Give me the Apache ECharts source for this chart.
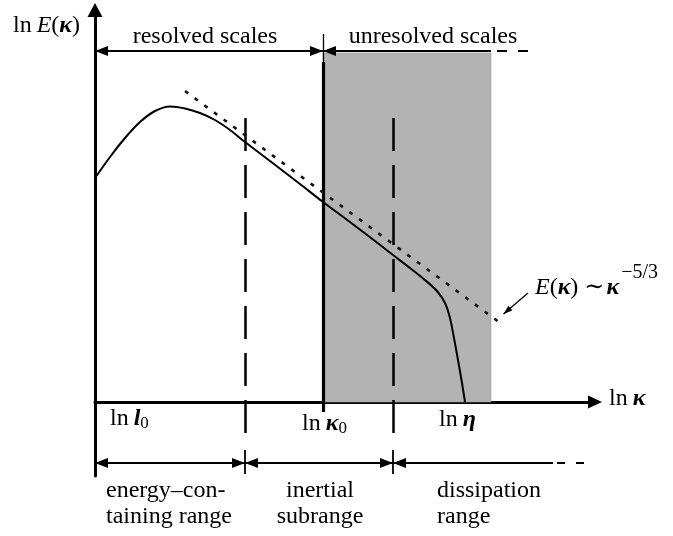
<!DOCTYPE html>
<html><head><meta charset="utf-8">
<script src="https://cdn.jsdelivr.net/npm/echarts@6/dist/echarts.min.js"></script>
<style>html,body{margin:0;padding:0;background:#fff}#c{width:673px;height:536px}</style>
</head><body><div id="c"></div>
<script>
// ---- data (arbitrary log units: x = ln kappa, y = ln E) ----
const lnK = [0, 0.3, 0.6, 0.9, 1.2, 1.5, 1.8, 2.1, 2.4, 2.7, 3.0, 3.5, 4.1, 4.56, 5.1, 5.6, 5.96, 6.3, 6.6, 6.84, 7.0, 7.1, 7.18, 7.26, 7.34, 7.4];
const lnE = [5.6, 6.125, 6.6, 7.0, 7.275, 7.39, 7.34, 7.225, 7.05, 6.8, 6.5, 6.025, 5.45, 5.0, 4.5, 4.025, 3.675, 3.35, 3.05, 2.775, 2.475, 2.1, 1.6, 1.05, 0.475, 0];
const asymK = [1.8, 8.16];
const asymE = [7.775, 1.925];
const kL0 = 3.0, kK0 = 4.56, kEta = 5.96, kShadeEnd = 7.92;
const topLevel = 8.775, shadeTop = 8.725, botLevel = -1.525;

const FF = "'Liberation Serif','DejaVu Serif',serif";
const font = (sz, st, wt) => (st || 'normal') + ' ' + (wt || 'normal') + ' ' + sz + 'px ' + FF;
const chart = echarts.init(document.getElementById('c'), null, {renderer: 'canvas'});

const ARW = {symbol: 'triangle', symbolSize: [10, 13], symbolOffset: [0, 6.5]};
function seg(a, b, from, to, style) {
  const p = Object.assign({coord: a}, from ? ARW : {symbol: 'none'});
  const q = Object.assign({coord: b}, to ? ARW : {symbol: 'none'});
  p.lineStyle = Object.assign({color: '#000', width: 2, type: 'solid'}, style || {});
  return [p, q];
}
const dashV = {width: 2.5, type: [33, 14]};
const marks = [
  seg([0, topLevel], [kK0, topLevel], true, true),
  seg([kK0, topLevel], [kShadeEnd, topLevel], true, false),
  seg([8.04, topLevel], [8.7, topLevel], false, false, {type: [10, 11]}),
  seg([kK0, 9.2], [kK0, 8.5], false, false, {width: 1.3}),
  seg([kK0, 8.5], [kK0, -0.25], false, false, {width: 3.2}),
  seg([kL0, 7.1], [kL0, -0.775], false, false, dashV),
  seg([kEta, 7.1], [kEta, -0.775], false, false, dashV),
  seg([0, botLevel], [kL0, botLevel], true, true),
  seg([kL0, botLevel], [kEta, botLevel], true, true),
  seg([kEta, botLevel], [9.16, botLevel], true, false),
  seg([9.24, botLevel], [9.78, botLevel], false, false, {type: [8, 11]}),
  seg([kL0, -1.2], [kL0, -1.8], false, false, {width: 1.8}),
  seg([kEta, -1.2], [kEta, -1.8], false, false, {width: 1.8}),
  seg([asymK[0], asymE[0]], [asymK[1], asymE[1]], false, false, {width: 2.6, type: [4, 8], color: '#111'}),
  [{coord: [8.66, 2.725], symbol: 'none', lineStyle: {color: '#000', width: 1.3, type: 'solid'}},
   {coord: [8.17, 2.2], symbol: 'triangle', symbolSize: [6, 9], symbolOffset: [0, 4.5]}]
];

const axisCommon = {
  type: 'value', axisTick: {show: false}, axisLabel: {show: false}, splitLine: {show: false},
};
chart.setOption({
  animation: false,
  backgroundColor: '#fff',
  grid: {left: 95, right: 78, top: 10, bottom: 60},
  xAxis: Object.assign({min: 0, max: 10, axisLine: {onZero: true, symbol: ['none', 'triangle'], symbolSize: [13, 14], lineStyle: {color: '#000', width: 3}}}, axisCommon),
  yAxis: Object.assign({min: -1.85, max: 9.8, axisLine: {onZero: true, symbol: ['none', 'triangle'], symbolSize: [15, 14], lineStyle: {color: '#000', width: 3}}}, axisCommon),
  series: [{
    type: 'line',
    data: lnK.map((k, i) => [k, lnE[i]]),
    smooth: 0.25,
    showSymbol: false,
    silent: true,
    lineStyle: {color: '#000', width: 2},
    z: 3,
    markArea: {
      silent: true,
      itemStyle: {color: '#b3b3b3', borderColor: '#9a9a9a', borderWidth: 0.6},
      data: [[{coord: [kK0, 0]}, {coord: [kShadeEnd, shadeTop]}]]
    },
    markLine: {
      silent: true, animation: false,
      label: {show: false},
      emphasis: {disabled: true},
      symbol: ['none', 'none'],
      data: marks
    }
  }]
});

// ---- text annotations anchored in data coordinates ----
const P = (x, y) => chart.convertToPixel({gridIndex: 0}, [x, y]);
const rich = {
  r: {font: font(24), fill: '#000'},
  i: {font: font(24, 'italic'), fill: '#000'},
  iL: {font: font(24, 'italic'), fill: '#000', padding: [0, 0, 0, 5]},
  b: {font: font(24, 'italic', 'bold'), fill: '#000'},
  bL: {font: font(24, 'italic', 'bold'), fill: '#000', padding: [0, 0, 0, 5]},
  sub: {font: font(17), fill: '#000', padding: [10, 0, 0, 0]},
  sim: {font: font(24), fill: '#000', padding: [0, 2, 0, 6]},
  sup: {font: font(20), fill: '#000', padding: [0, 0, 30, 2]}
};
const texts = [
  {at: [2.2, 9.125], align: 'center', t: '{r|resolved scales}'},
  {at: [6.76, 9.125], align: 'center', t: '{r|unresolved scales}'},
  {at: [-1.64, 9.4], align: 'left', t: '{r|ln}{iL|E}{r|(}{b|κ}{r|)}'},
  {at: [10.28, 0.075], align: 'left', t: '{r|ln}{bL|κ}'},
  {at: [0.3, -0.425], align: 'left', t: '{r|ln}{bL|l}{sub|0}'},
  {at: [4.14, -0.55], align: 'left', t: '{r|ln}{bL|κ}{sub|0}'},
  {at: [6.88, -0.45], align: 'left', t: '{r|ln}{bL|η}'},
  {at: [0.22, -2.55], align: 'left', t: '{r|energy–con-}\n{r|taining range}'},
  {at: [4.5, -2.55], align: 'center', t: '{r|inertial}\n{r|subrange}'},
  {at: [6.84, -2.55], align: 'left', t: '{r|dissipation}\n{r|range}'},
  {at: [8.8, 2.85], align: 'left', t: '{i|E}{r|(}{b|κ}{r|)}{sim|∼}{b|κ}{sup|−5/3}'}
];
chart.setOption({
  graphic: texts.map(o => {
    const p = P(o.at[0], o.at[1]);
    return {
      type: 'text', x: p[0], y: p[1], silent: true, z: 10,
      style: {text: o.t, rich: rich, align: o.align, verticalAlign: 'middle', lineHeight: 26, font: font(24), fill: '#000'}
    };
  })
});
</script></body></html>
